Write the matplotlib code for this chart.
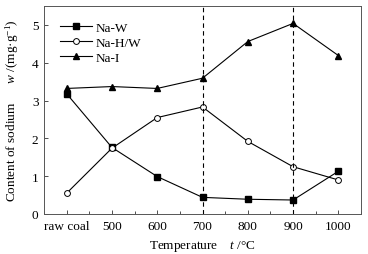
import matplotlib
matplotlib.use("Agg")
import matplotlib.pyplot as plt
from matplotlib.ticker import MultipleLocator

plt.rcParams['font.family'] = ['Liberation Serif', 'DejaVu Serif']
plt.rcParams['mathtext.fontset'] = 'custom'
plt.rcParams['mathtext.rm'] = 'Liberation Serif'
plt.rcParams['mathtext.it'] = 'Liberation Serif:italic'

categories = ['raw coal', '500', '600', '700', '800', '900', '1000']
na_w = [3.18, 1.76, 0.99, 0.44, 0.39, 0.37, 1.13]
na_hw = [0.55, 1.74, 2.55, 2.83, 1.92, 1.25, 0.90]
na_i = [3.32, 3.37, 3.32, 3.59, 4.56, 5.04, 4.19]
dashed_at = ['700', '900']

fig = plt.figure(figsize=(3.68, 2.55), dpi=100)
ax = fig.add_axes([44/368, 1-215/255, (361-44)/368, (215-7)/255])
x = list(range(len(categories)))

ax.plot(x, na_w, '-', color='black', lw=0.8, marker='s', ms=4.5, mfc='black', label='Na-W')
ax.plot(x, na_hw, '-', color='black', lw=0.8, marker='o', ms=4.2, mfc='white', mew=0.7, label='Na-H/W')
ax.plot(x, na_i, '-', color='black', lw=0.8, marker='^', ms=4.5, mfc='black', label='Na-I')
for c in dashed_at:
    ax.axvline(categories.index(c), color='black', lw=0.8, ls=(0, (4, 3)))

ax.set_xlim(-0.5, 6.5)
ax.set_ylim(0, 5.5)
ax.set_xticks(x)
ax.set_xticklabels(categories)
ax.xaxis.set_minor_locator(MultipleLocator(0.5))
ax.yaxis.set_major_locator(MultipleLocator(1))
ax.tick_params(which='both', direction='in', labelsize=9.5, length=3, width=0.6, color='#333333', pad=4)
ax.tick_params(which='minor', length=2)
ax.tick_params(axis='y', which='minor', length=0)
for s in ax.spines.values():
    s.set_linewidth(0.7)
    s.set_color('#555555')

ax.set_xlabel('Temperature    $\\mathit{t}$ /\u00b0C', fontsize=9.5, labelpad=5)
ax.set_ylabel('Content of sodium      $\\mathit{w}$ /(mg\u00b7g$^{-1}$)', fontsize=9.5, labelpad=8)
ax.legend(loc='upper left', frameon=False, fontsize=9.5, handlelength=2.4, borderaxespad=0.7,
          labelspacing=0.2, handletextpad=0.3, borderpad=0.5)

fig.savefig('out.png', dpi=100)
